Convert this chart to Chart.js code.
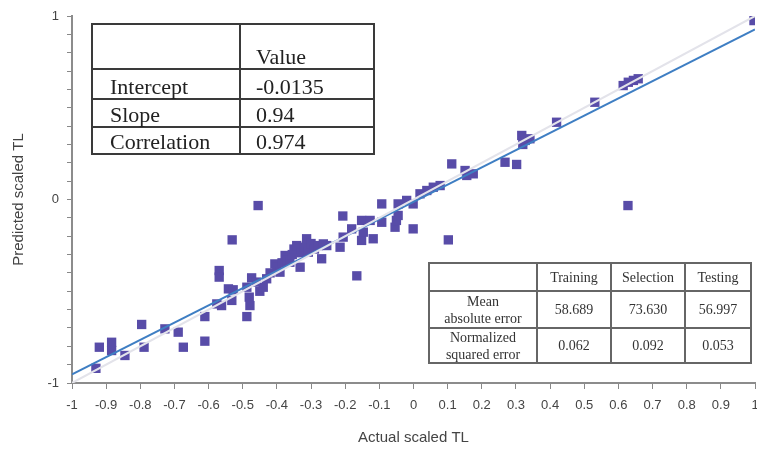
<!DOCTYPE html>
<html><head><meta charset="utf-8">
<script src="https://cdn.jsdelivr.net/npm/chart.js@4"></script>
<style>
html,body{margin:0;padding:0;background:#fff;}
#wrap{position:relative;width:757px;height:454px;overflow:hidden;}
canvas{position:absolute;left:0;top:0;}
.ln{position:absolute;}
.tx{position:absolute;display:flex;box-sizing:border-box;font-family:"Liberation Serif","Times New Roman",serif;white-space:nowrap;}
</style></head><body>
<div id="wrap"><canvas id="c" width="757" height="454"></canvas></div>
<script>
// ---- data ----
const actual = [
 -0.930,-0.920,-0.884,-0.884,-0.845,-0.796,-0.789,-0.728,-0.689,-0.674,-0.611,-0.611,-0.576,-0.562,
 -0.569,-0.569,-0.542,-0.528,-0.531,-0.532,-0.455,-0.488,-0.474,-0.481,-0.479,-0.488,-0.460,-0.450,
 -0.440,-0.430,-0.420,-0.406,-0.400,-0.391,-0.385,-0.376,-0.370,-0.362,-0.355,-0.350,-0.342,-0.332,
 -0.330,-0.320,-0.313,-0.308,-0.300,-0.290,-0.279,-0.269,-0.254,-0.264,-0.215,-0.206,-0.207,-0.181,
 -0.166,-0.152,-0.152,-0.147,-0.127,-0.118,-0.093,-0.093,-0.054,-0.050,-0.045,-0.045,-0.020,-0.001,
 -0.001,0.019,0.039,0.058,0.078,0.102,0.112,0.151,0.156,0.175,0.268,0.302,0.317,0.327,0.341,0.320,
 0.419,0.531,0.614,0.629,0.644,0.658,0.628,0.997
];
const predicted = [
 -0.920,-0.805,-0.778,-0.823,-0.850,-0.681,-0.805,-0.705,-0.723,-0.805,-0.638,-0.772,-0.569,-0.578,
 -0.387,-0.423,-0.487,-0.492,-0.220,-0.550,-0.033,-0.478,-0.427,-0.532,-0.578,-0.638,-0.450,-0.500,
 -0.478,-0.432,-0.400,-0.351,-0.370,-0.396,-0.345,-0.305,-0.330,-0.342,-0.300,-0.270,-0.251,-0.369,
 -0.290,-0.260,-0.214,-0.287,-0.240,-0.270,-0.251,-0.323,-0.251,-0.242,-0.260,-0.205,-0.090,-0.160,
 -0.416,-0.114,-0.223,-0.178,-0.114,-0.214,-0.124,-0.024,-0.151,-0.114,-0.087,-0.024,-0.005,-0.024,
 -0.160,0.031,0.049,0.067,0.076,-0.220,0.194,0.158,0.131,0.140,0.203,0.191,0.349,0.322,0.331,0.300,
 0.421,0.530,0.621,0.639,0.649,0.658,-0.033,0.975
];
const statLabels = ['Intercept','Slope','Correlation'];
const statValues = ['-0.0135','0.94','0.974'];
const errColumns = ['Training','Selection','Testing'];
const errRowLabels = [['Mean','absolute error'],['Normalized','squared error']];
const meanAbsError = ['58.689','73.630','56.997'];
const normSqError = ['0.062','0.092','0.053'];
const axisEnds = [-1, 1];

// ---- build datasets ----
const intercept = parseFloat(statValues[0]);
const slope = parseFloat(statValues[1]);
const pts = actual.map((x,i)=>({x:x, y:predicted[i]}));
const fitPts = axisEnds.map(x=>({x:x, y:intercept + slope*x}));
const idPts = axisEnds.map(x=>({x:x, y:x}));

function fmtX(v){ const r=Math.round(v*10)/10; return Math.abs(r)<1e-9?'0':String(r); }
function fmtY(v){ const r=Math.round(v*10)/10; return Math.abs(r-Math.round(r))<1e-9 ? String(Math.round(r)) : ''; }

new Chart(document.getElementById('c'), {
  type:'scatter',
  data:{datasets:[
    {label:'y = x', type:'line', data:idPts, borderColor:'#e3e3ea', borderWidth:2, pointRadius:0, order:0},
    {label:'Fit', type:'line', data:fitPts, borderColor:'#3e7ec3', borderWidth:2, pointRadius:0, order:1},
    {label:'Data', data:pts, pointStyle:'rect', pointRadius:6.6, backgroundColor:'rgb(88,76,168)', borderWidth:0, order:2}
  ]},
  options:{
    responsive:false, animation:false,
    layout:{autoPadding:false, padding:{top:16,right:2,left:0,bottom:0}},
    plugins:{legend:{display:false}, tooltip:{enabled:false}},
    scales:{
      x:{type:'linear', min:-1, max:1,
        ticks:{stepSize:0.1, autoSkip:false, maxRotation:0, callback:fmtX, color:'#444', font:{family:'Liberation Sans', size:13}, padding:9},
        grid:{drawOnChartArea:false, drawTicks:true, tickLength:6, color:'#888'},
        border:{color:'#8c8c8c', width:2},
        title:{display:true, text:'Actual scaled TL', color:'#444', font:{family:'Liberation Sans', size:15}, padding:{top:0,bottom:7}},
        afterFit(s){ s.height = 71; s.paddingRight = 0; s.paddingLeft = 0; }
      },
      y:{type:'linear', min:-1, max:1,
        ticks:{stepSize:0.1, autoSkip:false, callback:fmtY, color:'#444', font:{family:'Liberation Sans', size:13}, padding:8},
        grid:{drawOnChartArea:false, drawTicks:true, tickLength:5, color:'#888'},
        border:{color:'#8c8c8c', width:2},
        title:{display:true, text:'Predicted scaled TL', color:'#444', font:{family:'Liberation Sans', size:15}, padding:{top:10,bottom:0}},
        afterFit(s){ s.width = 72; s.paddingTop = 0; s.paddingBottom = 0; }
      }
    }
  }
});

// ---- tables (HTML text overlays) ----
const wrap = document.getElementById('wrap');
function el(cls, css, html){ const d=document.createElement('div'); d.className=cls; Object.assign(d.style, css); if(html!==undefined) d.innerHTML=html; wrap.appendChild(d); return d; }
function grid(cols, rows, color, w){
  const L=cols[0], R=cols[cols.length-1], T=rows[0], B=rows[rows.length-1];
  cols.forEach(x=>el('ln',{left:(x-w/2)+'px',top:(T-w/2)+'px',width:w+'px',height:(B-T+w)+'px',background:color}));
  rows.forEach(y=>el('ln',{left:(L-w/2)+'px',top:(y-w/2)+'px',width:(R-L+w)+'px',height:w+'px',background:color}));
}
// table 1
const c1=[92,240,374], r1=[24,69,99,127,154];
grid(c1, r1, '#3a3a3a', 2);
function t1(text, ci, ri){
  el('tx',{left:(c1[ci]+ (ci===0?18:16))+'px', top:r1[ri]+'px', width:(c1[ci+1]-c1[ci]-18)+'px', height:(r1[ri+1]-r1[ri])+'px',
    alignItems:'flex-end', fontSize:'22px', lineHeight:'22px', color:'#222', paddingBottom:'1px'}, text);
}
t1('Value',1,0);
statLabels.forEach((s,i)=>{ t1(s,0,i+1); t1(statValues[i],1,i+1); });
// table 2
const c2=[429,537,611,685,751], r2=[263,291,328,363];
grid(c2, r2, '#666', 1.5);
function t2(html, ci, ri){
  el('tx',{left:c2[ci]+'px', top:r2[ri]+'px', width:(c2[ci+1]-c2[ci])+'px', height:(r2[ri+1]-r2[ri])+'px',
    alignItems:'center', justifyContent:'center', textAlign:'center', fontSize:'14px', lineHeight:'17px', color:'#333'}, '<div>'+html+'</div>');
}
errColumns.forEach((s,i)=>t2(s,i+1,0));
errRowLabels.forEach((lines,i)=>t2(lines.join('<br>'),0,i+1));
meanAbsError.forEach((s,i)=>t2(s,i+1,1));
normSqError.forEach((s,i)=>t2(s,i+1,2));
</script>
</body></html>
